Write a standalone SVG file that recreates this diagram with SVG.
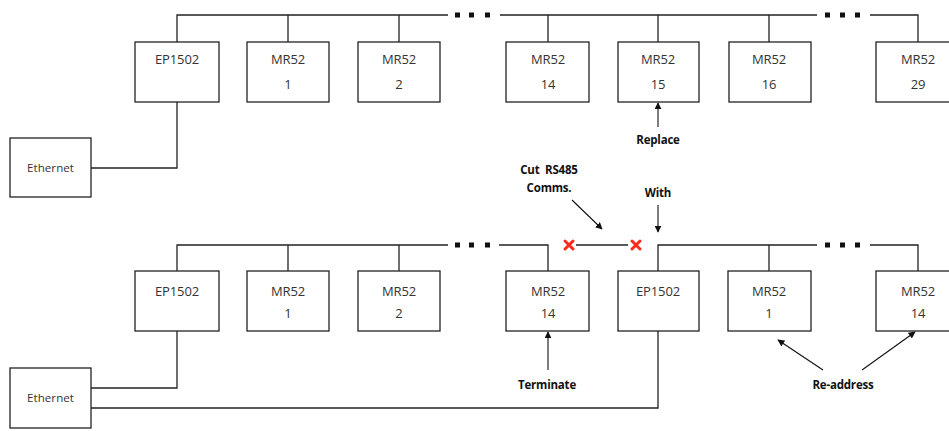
<svg xmlns="http://www.w3.org/2000/svg" width="949" height="431" viewBox="0 0 949 431">
<defs>
<style>
.box{fill:#fff;stroke:#222;stroke-width:1.3}
.ln{fill:none;stroke:#222;stroke-width:1.3}
.ar{fill:none;stroke:#111;stroke-width:1.1}
.lbl{font-family:"Open Sans","Noto Sans",sans-serif;font-size:13px;fill:#333;text-anchor:middle;letter-spacing:-0.1px}
.eth{font-family:"Open Sans","Noto Sans",sans-serif;font-size:11.5px;fill:#333;text-anchor:middle;letter-spacing:0.1px}
.ann{font-family:"Open Sans","Noto Sans",sans-serif;font-size:11.5px;font-weight:bold;fill:#111;text-anchor:middle;letter-spacing:-0.2px}
.dot{fill:#111}
.x{stroke:#ff2a1a;stroke-width:3;stroke-linecap:round}
</style>
<marker id="ah" viewBox="0 0 10 10" refX="9" refY="5" markerWidth="7" markerHeight="7" orient="auto" markerUnits="userSpaceOnUse">
<path d="M0,0 L10,5 L0,10 Z" fill="#111"/>
</marker>
</defs>

<g id="connectors">
<path class="ln" d="M177,42 V15 H448"/>
<path class="ln" d="M288,15 V42 M399,15 V42"/>
<path class="ln" d="M500,15 H817 M548,15 V42 M658,15 V42 M769,15 V42"/>
<path class="ln" d="M870,15 H918 V42"/>
<path class="ln" d="M177,102 V168 H91"/>
<path class="ln" d="M177,271 V245 H448"/>
<path class="ln" d="M288,245 V271 M399,245 V271"/>
<path class="ln" d="M499,245 H548 V271"/>
<path class="ln" d="M576,245 H628"/>
<path class="ln" d="M658,271 V245 H817 M769,245 V271"/>
<path class="ln" d="M870,245 H918 V271"/>
<path class="ln" d="M177,331 V388 H91"/>
<path class="ln" d="M91,408 H658 V331"/>
<rect class="dot" x="455" y="12.5" width="5" height="5"/>
<rect class="dot" x="469" y="12.5" width="5" height="5"/>
<rect class="dot" x="485" y="12.5" width="5" height="5"/>
<rect class="dot" x="825" y="12.5" width="5" height="5"/>
<rect class="dot" x="840" y="12.5" width="5" height="5"/>
<rect class="dot" x="855" y="12.5" width="5" height="5"/>
<rect class="dot" x="455" y="242.5" width="5" height="5"/>
<rect class="dot" x="469" y="242.5" width="5" height="5"/>
<rect class="dot" x="485" y="242.5" width="5" height="5"/>
<rect class="dot" x="825" y="242.5" width="5" height="5"/>
<rect class="dot" x="840" y="242.5" width="5" height="5"/>
<rect class="dot" x="855" y="242.5" width="5" height="5"/>
<path class="x" d="M565,241 L573,249 M573,241 L565,249"/>
<path class="x" d="M632,241 L640,249 M640,241 L632,249"/>
<line class="ar" x1="658" y1="127" x2="658" y2="103" marker-end="url(#ah)"/>
<line class="ar" x1="572" y1="200" x2="602" y2="229" marker-end="url(#ah)"/>
<line class="ar" x1="658" y1="205" x2="658" y2="232" marker-end="url(#ah)"/>
<line class="ar" x1="548" y1="370" x2="548" y2="332" marker-end="url(#ah)"/>
<line class="ar" x1="823" y1="370" x2="778" y2="340" marker-end="url(#ah)"/>
<line class="ar" x1="862" y1="370" x2="915" y2="332" marker-end="url(#ah)"/>
</g>

<g id="top-ep1502"><rect class="box" x="135" y="42" width="84" height="60"/><text class="lbl" x="177" y="64">EP1502</text></g>
<g id="top-mr52-1"><rect class="box" x="247" y="42" width="82" height="60"/><text class="lbl" x="288" y="64">MR52</text><text class="lbl" x="288" y="89">1</text></g>
<g id="top-mr52-2"><rect class="box" x="358" y="42" width="82" height="60"/><text class="lbl" x="399" y="64">MR52</text><text class="lbl" x="399" y="89">2</text></g>
<g id="top-mr52-14"><rect class="box" x="506" y="42" width="83" height="60"/><text class="lbl" x="548" y="64">MR52</text><text class="lbl" x="548" y="89">14</text></g>
<g id="top-mr52-15"><rect class="box" x="618" y="42" width="81" height="60"/><text class="lbl" x="658" y="64">MR52</text><text class="lbl" x="658" y="89">15</text></g>
<g id="top-mr52-16"><rect class="box" x="729" y="42" width="82" height="60"/><text class="lbl" x="769" y="64">MR52</text><text class="lbl" x="769" y="89">16</text></g>
<g id="top-mr52-29"><rect class="box" x="876" y="42" width="84" height="60"/><text class="lbl" x="918" y="64">MR52</text><text class="lbl" x="918" y="89">29</text></g>
<g id="top-ethernet"><rect class="box" x="10" y="138" width="81" height="59"/><text class="eth" x="50.5" y="172">Ethernet</text></g>

<g id="bot-ep1502"><rect class="box" x="135" y="271" width="84" height="60"/><text class="lbl" x="177" y="296">EP1502</text></g>
<g id="bot-mr52-1"><rect class="box" x="247" y="271" width="82" height="60"/><text class="lbl" x="288" y="296">MR52</text><text class="lbl" x="288" y="318">1</text></g>
<g id="bot-mr52-2"><rect class="box" x="358" y="271" width="82" height="60"/><text class="lbl" x="399" y="296">MR52</text><text class="lbl" x="399" y="318">2</text></g>
<g id="bot-mr52-14"><rect class="box" x="506" y="271" width="83" height="60"/><text class="lbl" x="548" y="296">MR52</text><text class="lbl" x="548" y="318">14</text></g>
<g id="bot-ep1502-new"><rect class="box" x="618" y="271" width="81" height="60"/><text class="lbl" x="658" y="296">EP1502</text></g>
<g id="bot-mr52-1-new"><rect class="box" x="728" y="271" width="83" height="60"/><text class="lbl" x="769" y="296">MR52</text><text class="lbl" x="769" y="318">1</text></g>
<g id="bot-mr52-14-new"><rect class="box" x="876" y="271" width="84" height="60"/><text class="lbl" x="918" y="296">MR52</text><text class="lbl" x="918" y="318">14</text></g>
<g id="bot-ethernet"><rect class="box" x="10" y="368" width="81" height="60"/><text class="eth" x="50.5" y="402">Ethernet</text></g>

<g id="annotations">
<text class="ann" x="658" y="144">Replace</text>
<text class="ann" x="549" y="174" xml:space="preserve">Cut  RS485</text>
<text class="ann" x="549" y="192">Comms.</text>
<text class="ann" x="658" y="197">With</text>
<text class="ann" x="547" y="389">Terminate</text>
<text class="ann" x="843" y="389">Re-address</text>
</g>
</svg>
